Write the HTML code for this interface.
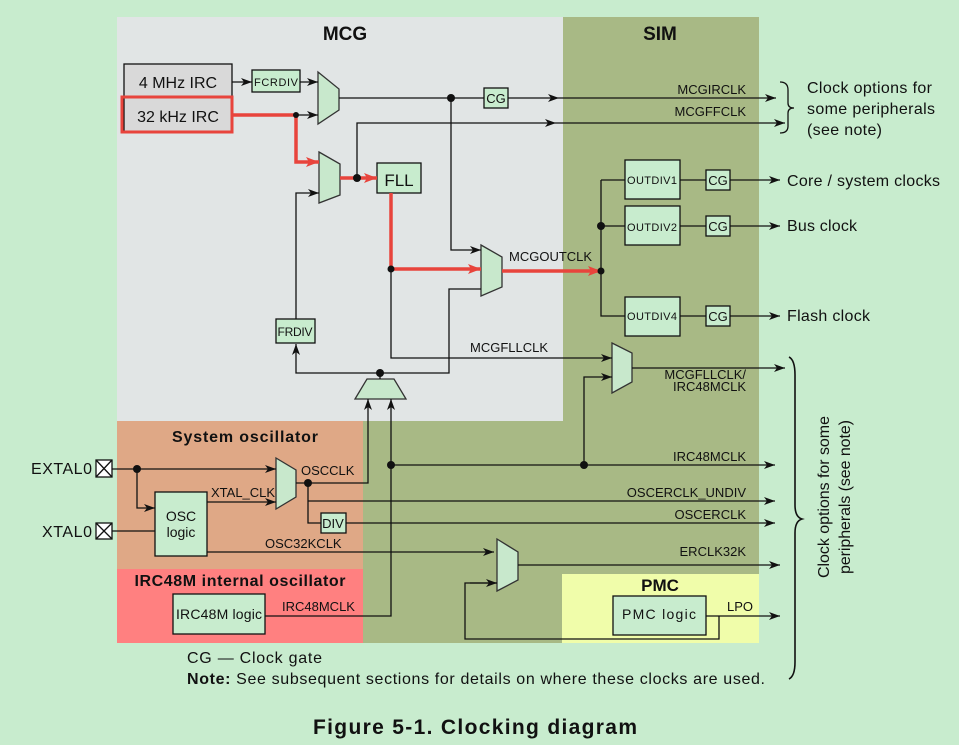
<!DOCTYPE html>
<html><head><meta charset="utf-8"><style>
html,body{margin:0;padding:0;background:#c8ecce;}
svg{display:block;font-family:"Liberation Sans",sans-serif;}
</style></head><body>
<svg width="959" height="745" viewBox="0 0 959 745" xmlns="http://www.w3.org/2000/svg">
<defs>
<marker id="a" markerWidth="12" markerHeight="8" refX="11" refY="4" orient="auto" markerUnits="userSpaceOnUse"><path d="M0,0 L11,4 L0,8 L3,4 Z" fill="#111"/></marker>
<marker id="r" markerWidth="14" markerHeight="10" refX="13" refY="5" orient="auto" markerUnits="userSpaceOnUse"><path d="M0,0 L13,5 L0,10 L3,5 Z" fill="#e8443c"/></marker>
</defs>
<rect width="959" height="745" fill="#c8ecce"/>
<rect x="117" y="17" width="446" height="404" fill="#e1e5e5"/>
<rect x="563" y="17" width="196" height="626" fill="#a8b985"/>
<rect x="363" y="421" width="200" height="222" fill="#a8b985"/>
<rect x="117" y="421" width="246" height="148" fill="#dfa886"/>
<rect x="117" y="569" width="246" height="74" fill="#ff8080"/>
<rect x="562" y="574" width="197" height="69" fill="#f0fdaa"/>

<g font-weight="bold" fill="#111" text-anchor="middle">
<text x="345" y="40" font-size="19">MCG</text>
<text x="660" y="40" font-size="19">SIM</text>
<text x="245" y="442" font-size="16" textLength="146">System oscillator</text>
<text x="240" y="586" font-size="16" textLength="211">IRC48M internal oscillator</text>
<text x="660" y="591" font-size="17">PMC</text>
</g>

<g stroke="#111" stroke-width="1.3" fill="none">
<rect x="124" y="64" width="108" height="33" fill="#d9d9d9"/>
<rect x="124" y="97" width="108" height="35" fill="#d9d9d9"/>
<rect x="252" y="70" width="48" height="22" fill="#c8ecce"/>
<rect x="484" y="88" width="24" height="20" fill="#c8ecce"/>
<rect x="377" y="163" width="44" height="30" fill="#c8ecce"/>
<rect x="276" y="319" width="39" height="24" fill="#c8ecce"/>
<rect x="625" y="160" width="55" height="39" fill="#c8ecce"/>
<rect x="625" y="206" width="55" height="39" fill="#c8ecce"/>
<rect x="625" y="297" width="55" height="39" fill="#c8ecce"/>
<rect x="706" y="170" width="24" height="20" fill="#c8ecce"/>
<rect x="706" y="216" width="24" height="20" fill="#c8ecce"/>
<rect x="706" y="306" width="24" height="20" fill="#c8ecce"/>
<rect x="155" y="492" width="52" height="64" fill="#c8ecce"/>
<rect x="321" y="513" width="25" height="20" fill="#c8ecce"/>
<rect x="173" y="594" width="92" height="40" fill="#c8ecce"/>
<rect x="613" y="596" width="93" height="39" fill="#c8ecce"/>
<rect x="96" y="460" width="16" height="17" fill="#fff"/><path d="M96,460 L112,477 M112,460 L96,477"/>
<rect x="96" y="523" width="16" height="16" fill="#fff"/><path d="M96,523 L112,539 M112,523 L96,539"/>
<g fill="#c8e8cc" stroke="#333">
<path d="M318,72 L339,89 L339,110 L318,124 Z"/>
<path d="M319,152 L340,164 L340,195 L319,203 Z"/>
<path d="M481,245 L502,257 L502,287 L481,296 Z"/>
<path d="M612,343 L632,353 L632,382 L612,393 Z"/>
<path d="M276,458 L296,470 L296,497 L276,509 Z"/>
<path d="M497,539 L518,552 L518,580 L497,591 Z"/>
<path d="M367,379 L394,379 L406,399 L355,399 Z"/>
</g>
</g>
<rect x="122" y="97" width="110" height="35" fill="none" stroke="#e8443c" stroke-width="3"/>

<g stroke="#111" stroke-width="1.3" fill="none">
<path d="M232,82 L252,82" marker-end="url(#a)"/>
<path d="M300,82 L318,82" marker-end="url(#a)"/>
<path d="M296,115 L318,115" marker-end="url(#a)"/>
<path d="M339,98 L484,98"/>
<path d="M508,98 L559,98" marker-end="url(#a)"/>
<path d="M559,98 L776,98" marker-end="url(#a)"/>
<path d="M357,178 L357,123 L556,123" marker-end="url(#a)"/>
<path d="M556,123 L785,123" marker-end="url(#a)"/>
<path d="M451,98 L451,250 L481,250" marker-end="url(#a)"/>
<path d="M296,319 L296,193 L319,193" marker-end="url(#a)"/>
<path d="M481,289 L449,289 L449,373 L296,373 L296,344" marker-end="url(#a)"/>
<path d="M380,373 L380,379"/>
<path d="M391,269 L391,358 L612,358" marker-end="url(#a)"/>
<path d="M601,180 L601,316 L625,316 M601,180 L625,180 M601,226 L625,226"/>
<path d="M680,180 L706,180 M680,226 L706,226 M680,316 L706,316"/>
<path d="M730,180 L780,180" marker-end="url(#a)"/>
<path d="M730,226 L780,226" marker-end="url(#a)"/>
<path d="M730,316 L780,316" marker-end="url(#a)"/>
<path d="M632,368 L785,368" marker-end="url(#a)"/>
<path d="M584,465 L584,377 L612,377" marker-end="url(#a)"/>
<path d="M112,469 L276,469" marker-end="url(#a)"/>
<path d="M137,469 L137,508 L155,508" marker-end="url(#a)"/>
<path d="M112,531 L155,531"/>
<path d="M207,502 L276,502" marker-end="url(#a)"/>
<path d="M296,483 L368,483 L368,399" marker-end="url(#a)"/>
<path d="M308,483 L308,523 L321,523"/>
<path d="M308,501 L775,501" marker-end="url(#a)"/>
<path d="M346,523 L775,523" marker-end="url(#a)"/>
<path d="M207,552 L494,552" marker-end="url(#a)"/>
<path d="M265,616 L391,616 L391,399" marker-end="url(#a)"/>
<path d="M391,465 L775,465" marker-end="url(#a)"/>
<path d="M518,565 L780,565" marker-end="url(#a)"/>
<path d="M497,583 L465,583 L465,639 L719,639 L719,616" />
<path d="M470,583 L497,583" marker-end="url(#a)"/>
<path d="M706,616 L780,616" marker-end="url(#a)"/>
<path d="M780,82 Q788,82 788,90 L788,103 Q788,108 794,108 Q788,108 788,113 L788,126 Q788,133 780,133"/>
<path d="M789,357 Q795,360 795,375 L795,505 Q795,517 802,519 Q795,521 795,533 L795,662 Q795,676 789,679" stroke-width="1.6"/>
</g>
<g stroke="#e8443c" stroke-width="3.5" fill="none">
<path d="M232,115 L296,115 L296,162 L319,162" marker-end="url(#r)"/>
<path d="M340,178 L377,178" marker-end="url(#r)"/>
<path d="M391,193 L391,269 L481,269" marker-end="url(#r)"/>
<path d="M502,271 L601,271" marker-end="url(#r)"/>
</g>
<g fill="#111">
<circle cx="296" cy="115" r="3"/><circle cx="451" cy="98" r="4"/><circle cx="357" cy="178" r="4"/>
<circle cx="391" cy="269" r="3.5"/><circle cx="380" cy="373" r="4"/><circle cx="601" cy="226" r="4"/>
<circle cx="601" cy="271" r="3.5"/><circle cx="137" cy="469" r="4"/><circle cx="308" cy="483" r="4"/>
<circle cx="391" cy="465" r="4"/><circle cx="584" cy="465" r="4"/>
</g>

<g fill="#111">
<text x="178" y="88" font-size="16" text-anchor="middle">4 MHz IRC</text>
<text x="178" y="122" font-size="16" text-anchor="middle">32 kHz IRC</text>
<text x="276" y="86" font-size="11" text-anchor="middle" textLength="44">FCRDIV</text>
<text x="496" y="103" font-size="13" text-anchor="middle">CG</text>
<text x="399" y="186" font-size="17" text-anchor="middle">FLL</text>
<text x="295" y="336" font-size="12" text-anchor="middle" textLength="35">FRDIV</text>
<text x="652" y="184" font-size="11" text-anchor="middle" textLength="50">OUTDIV1</text>
<text x="652" y="231" font-size="11" text-anchor="middle" textLength="50">OUTDIV2</text>
<text x="652" y="320" font-size="11" text-anchor="middle" textLength="50">OUTDIV4</text>
<text x="718" y="185" font-size="13" text-anchor="middle">CG</text>
<text x="718" y="231" font-size="13" text-anchor="middle">CG</text>
<text x="718" y="321" font-size="13" text-anchor="middle">CG</text>
<g font-size="13" text-anchor="end">
<text x="746" y="94">MCGIRCLK</text>
<text x="746" y="116">MCGFFCLK</text>
<text x="746" y="379">MCGFLLCLK/</text>
<text x="746" y="391">IRC48MCLK</text>
<text x="746" y="461">IRC48MCLK</text>
<text x="746" y="497">OSCERCLK_UNDIV</text>
<text x="746" y="519">OSCERCLK</text>
<text x="746" y="556">ERCLK32K</text>
</g>
<text x="509" y="261" font-size="13">MCGOUTCLK</text>
<text x="470" y="352" font-size="13">MCGFLLCLK</text>
<g font-size="16">
<text x="787" y="186" textLength="153">Core / system clocks</text>
<text x="787" y="231" textLength="70">Bus clock</text>
<text x="787" y="321" textLength="83">Flash clock</text>
<text x="807" y="93" textLength="125">Clock options for</text>
<text x="807" y="114" textLength="128">some peripherals</text>
<text x="807" y="135" textLength="75">(see note)</text>
</g>
<g transform="translate(830,497) rotate(-90)" font-size="16" text-anchor="middle">
<text x="0" y="-1" textLength="162">Clock options for some</text>
<text x="0" y="20" textLength="154">peripherals (see note)</text>
</g>
<text x="92" y="474" font-size="16" text-anchor="end" textLength="61">EXTAL0</text>
<text x="92" y="537" font-size="16" text-anchor="end" textLength="50">XTAL0</text>
<text x="181" y="521" font-size="14" text-anchor="middle">OSC</text>
<text x="181" y="537" font-size="14" text-anchor="middle">logic</text>
<text x="211" y="497" font-size="13">XTAL_CLK</text>
<text x="301" y="475" font-size="13">OSCCLK</text>
<text x="333" y="528" font-size="13" text-anchor="middle">DIV</text>
<text x="265" y="548" font-size="13">OSC32KCLK</text>
<text x="219" y="619" font-size="14" text-anchor="middle" textLength="86">IRC48M logic</text>
<text x="282" y="611" font-size="13">IRC48MCLK</text>
<text x="659" y="619" font-size="14" text-anchor="middle" textLength="74">PMC logic</text>
<text x="727" y="611" font-size="13">LPO</text>
<text x="187" y="663" font-size="16" textLength="135">CG — Clock gate</text>
<text x="187" y="684" font-size="16" textLength="578"><tspan font-weight="bold">Note:</tspan> See subsequent sections for details on where these clocks are used.</text>
<text x="475" y="734" font-size="21" font-weight="bold" text-anchor="middle" textLength="324">Figure 5-1. Clocking diagram</text>
</g>
</svg>
</body></html>
